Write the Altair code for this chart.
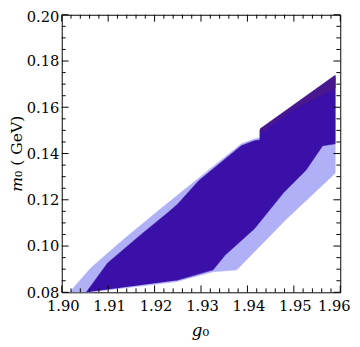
import altair as alt
import pandas as pd

# Light (outer) region vertices
light_g0 = [1.9017, 1.9063, 1.9135, 1.9204, 1.9246, 1.9293, 1.9387, 1.9415, 1.9427, 1.9427,
            1.9589, 1.9589, 1.9484, 1.9377, 1.9326, 1.9246, 1.9057]
light_m0 = [0.0800, 0.0906, 0.1032, 0.1146, 0.1214, 0.1290, 0.1442, 0.1463, 0.1468, 0.1506,
            0.1738, 0.1315, 0.1117, 0.0897, 0.0889, 0.0846, 0.0800]

# Dark (inner) region vertices
dark_g0 = [1.9053, 1.9099, 1.9168, 1.9229, 1.9250, 1.9295, 1.9387, 1.9415, 1.9427, 1.9427,
           1.9589, 1.9589, 1.9562, 1.9526, 1.9478, 1.9415, 1.9352, 1.9326, 1.9246]
dark_m0 = [0.0800, 0.0927, 0.1045, 0.1145, 0.1182, 0.1282, 0.1434, 0.1455, 0.1459, 0.1501,
           0.1730, 0.1442, 0.1434, 0.1328, 0.1231, 0.1075, 0.0961, 0.0897, 0.0851]

# Thin purple band along the upper-right edge
band_g0 = [1.9427, 1.9589, 1.9589, 1.9499, 1.9427]
band_m0 = [0.1506, 0.1738, 0.1683, 0.1590, 0.1485]

x_major = [1.90, 1.91, 1.92, 1.93, 1.94, 1.95, 1.96]
x_minor = [1.902, 1.904, 1.906, 1.908, 1.912, 1.914, 1.916, 1.918, 1.922, 1.924, 1.926, 1.928,
           1.932, 1.934, 1.936, 1.938, 1.942, 1.944, 1.946, 1.948, 1.952, 1.954, 1.956, 1.958]
y_major = [0.08, 0.10, 0.12, 0.14, 0.16, 0.18, 0.20]
y_minor = [0.085, 0.09, 0.095, 0.105, 0.11, 0.115, 0.125, 0.13, 0.135, 0.145, 0.15, 0.155,
           0.165, 0.17, 0.175, 0.185, 0.19, 0.195]

W, H = 285, 284
LIGHT = "#b0b0f6"
DARK = "#3a10a8"
BAND = "#48168e"
FONT = "DejaVu Serif"

xscale = alt.Scale(domain=[1.90, 1.96], nice=False, zero=False)
yscale = alt.Scale(domain=[0.08, 0.20], nice=False, zero=False)

def poly(xs, ys):
    return pd.DataFrame({"g0": xs, "m0": ys, "i": list(range(len(xs)))})

xaxis = alt.Axis(values=x_major, format=".2f", ticks=False, domain=False, grid=False,
                 labelFont=FONT, labelFontSize=15, labelPadding=7, labelFlush=False,
                 labelOverlap=False, labelColor="black", title=None,
                 labelAlign={"condition": {"test": "datum.value >= 1.9595", "value": "right"},
                             "value": "center"},
                 labelOffset={"condition": {"test": "datum.value >= 1.9595", "value": 10},
                              "value": 1})
yaxis = alt.Axis(values=y_major, format=".2f", ticks=False, domain=False, grid=False,
                 labelFont=FONT, labelFontSize=15, labelPadding=3, labelFlush=False,
                 labelOverlap=False, labelColor="black", title=None,
                 labelOffset={"condition": {"test": "datum.value >= 0.1995", "value": 2},
                              "value": 0})

def region(xs, ys, color):
    return alt.Chart(poly(xs, ys)).mark_line(fill=color, stroke=color, strokeWidth=0.6).encode(
        x=alt.X("g0:Q", scale=xscale, axis=xaxis, title=None),
        y=alt.Y("m0:Q", scale=yscale, axis=yaxis, title=None),
        order=alt.Order("i:Q"),
    )

layers = [region(light_g0, light_m0, LIGHT),
          region(dark_g0, dark_m0, DARK),
          region(band_g0, band_m0, BAND)]

def xticks(vals, length):
    df = pd.DataFrame({"g0": vals})
    enc_x = alt.X("g0:Q", scale=xscale, axis=xaxis, title=None)
    bot = alt.Chart(df).mark_rule(color="black", strokeWidth=1).encode(
        x=enc_x, y=alt.value(H), y2=alt.value(H - length))
    top = alt.Chart(df).mark_rule(color="black", strokeWidth=1).encode(
        x=enc_x, y=alt.value(0), y2=alt.value(length))
    return [bot, top]

def yticks(vals, length):
    df = pd.DataFrame({"m0": vals})
    enc_y = alt.Y("m0:Q", scale=yscale, axis=yaxis, title=None)
    left = alt.Chart(df).mark_rule(color="black", strokeWidth=1).encode(
        y=enc_y, x=alt.value(0), x2=alt.value(length))
    right = alt.Chart(df).mark_rule(color="black", strokeWidth=1).encode(
        y=enc_y, x=alt.value(W), x2=alt.value(W - length))
    return [left, right]

layers += xticks(x_major, 7) + xticks(x_minor, 4) + yticks(y_major, 7) + yticks(y_minor, 4)

one = pd.DataFrame({"a": [0]})
# x title: italic g with subscript 0
layers.append(alt.Chart(one).mark_text(font=FONT, fontSize=17, fontStyle="italic", align="right",
                                        baseline="alphabetic", color="black").encode(
    x=alt.value(144), y=alt.value(H + 45), text=alt.value("g")))
layers.append(alt.Chart(one).mark_text(font=FONT, fontSize=17, align="left",
                                        baseline="alphabetic", color="black").encode(
    x=alt.value(144), y=alt.value(H + 45), text=alt.value("₀")))
# y title: italic m, then subscript 0 and unit
layers.append(alt.Chart(one).mark_text(font=FONT, fontSize=16, fontStyle="italic", angle=270,
                                        align="right", baseline="middle", color="black").encode(
    x=alt.value(-46), y=alt.value(166), text=alt.value("m")))
layers.append(alt.Chart(one).mark_text(font=FONT, fontSize=16, angle=270,
                                        align="left", baseline="middle", color="black").encode(
    x=alt.value(-46), y=alt.value(166), text=alt.value("₀ ( GeV)")))

chart = alt.layer(*layers).properties(
    width=W, height=H,
    autosize=alt.AutoSizeParams(type="none"),
    padding={"left": 55, "top": 3, "right": 12, "bottom": 50},
).configure_view(stroke="black", strokeWidth=1)

chart.save("out.html", embed_options={"renderer": "svg", "actions": False})
